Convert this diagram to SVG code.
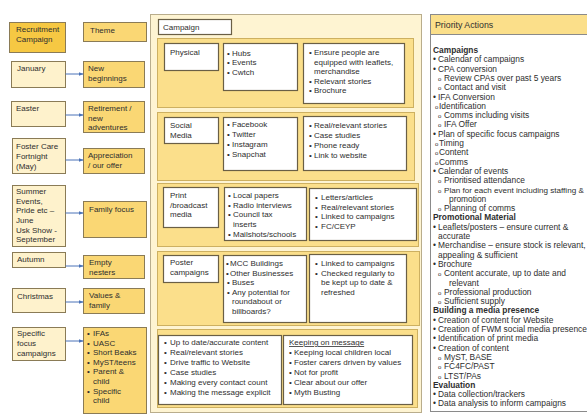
<svg xmlns="http://www.w3.org/2000/svg" width="587" height="415" viewBox="0 0 587 415">
<defs>
<marker id="ah" markerWidth="5" markerHeight="4" refX="4.5" refY="2" orient="auto" markerUnits="userSpaceOnUse">
<path d="M0,0 L5,2 L0,4 Z" fill="#4a73b8"/>
</marker>
<style>
text{font-family:"Liberation Sans",Arial,sans-serif;font-size:8px;fill:#2e2e2e}
.p{font-size:8.4px}
.h{font-size:8.8px}
.b{font-weight:bold}
.o{font-size:6px}
.dark{fill:#f6c843;stroke:#8a7b56;stroke-width:1}
.gold{fill:#fad774;stroke:#8a7b56;stroke-width:1}
.light{fill:#fef2cc;stroke:#8a7b56;stroke-width:1}
.panel{fill:#fef4d2;stroke:#b9ad8c;stroke-width:1}
.sect{fill:#fbdf8b;stroke:#cdb061;stroke-width:1}
.white{fill:#fff;stroke:#6a5f45;stroke-width:1.2}
.conn{stroke:#4a73b8;stroke-width:1;fill:none;marker-end:url(#ah)}
</style>
</defs>
<rect width="587" height="415" fill="#fff"/>

<!-- left column -->
<g id="recruitment"><rect class="dark" x="9.5" y="22.5" width="56" height="30"/><text x="16" y="32">Recruitment</text><text x="16" y="42">Campaign</text></g>
<g id="theme"><rect class="gold" x="83.5" y="22.5" width="63" height="19"/><text x="90" y="33">Theme</text></g>

<g id="january"><rect class="light" x="11.5" y="61.5" width="54" height="26"/><text x="17" y="71">January</text></g>
<g id="new-beginnings"><rect class="gold" x="83.5" y="61.5" width="61" height="26"/><text x="88" y="71">New</text><text x="88" y="81">beginnings</text></g>

<g id="easter"><rect class="light" x="11.5" y="101.5" width="54" height="25"/><text x="16" y="111">Easter</text></g>
<g id="retirement"><rect class="gold" x="83.5" y="101.5" width="61" height="31"/><text x="88" y="111">Retirement /</text><text x="88" y="120.5">new</text><text x="88" y="130">adventures</text></g>

<g id="foster-care"><rect class="light" x="12.5" y="138.5" width="53" height="35"/><text x="16" y="149">Foster Care</text><text x="16" y="159">Fortnight</text><text x="16" y="169">(May)</text></g>
<g id="appreciation"><rect class="gold" x="83.5" y="148.5" width="61" height="25"/><text x="88" y="158">Appreciation</text><text x="88" y="167.5">/ our offer</text></g>

<g id="summer"><rect class="light" x="12.5" y="185.5" width="53" height="61"/><text x="16" y="194">Summer</text><text x="16" y="203.7">Events,</text><text x="16" y="213.4">Pride etc –</text><text x="16" y="223">June</text><text x="16" y="232.7">Usk Show -</text><text x="16" y="242.4">September</text></g>
<g id="family-focus"><rect class="gold" x="83.5" y="201.5" width="63" height="36"/><text x="89" y="212">Family focus</text></g>

<g id="autumn"><rect class="light" x="12.5" y="252.5" width="53" height="15"/><text x="17" y="262">Autumn</text></g>
<g id="empty-nesters"><rect class="gold" x="83.5" y="255.5" width="61" height="23"/><text x="89" y="265">Empty</text><text x="89" y="275">nesters</text></g>

<g id="christmas"><rect class="light" x="12.5" y="288.5" width="53" height="24"/><text x="17" y="299">Christmas</text></g>
<g id="values"><rect class="gold" x="83.5" y="288.5" width="61" height="25"/><text x="89" y="298">Values &amp;</text><text x="89" y="307.5">family</text></g>

<g id="specific"><rect class="light" x="12.5" y="327.5" width="53" height="33"/><text x="17" y="336">Specific</text><text x="17" y="346">focus</text><text x="17" y="356">campaigns</text></g>
<g id="specific-list"><rect class="gold" x="83.5" y="327.5" width="63" height="86"/>
<text x="87" y="336">•</text><text x="93" y="336">IFAs</text>
<text x="87" y="345.6">•</text><text x="93" y="345.6">UASC</text>
<text x="87" y="355.2">•</text><text x="93" y="355.2">Short Beaks</text>
<text x="87" y="364.8">•</text><text x="93" y="364.8">MyST/teens</text>
<text x="87" y="374.4">•</text><text x="93" y="374.4">Parent &amp;</text>
<text x="93" y="384">child</text>
<text x="87" y="393.6">•</text><text x="93" y="393.6">Specific</text>
<text x="93" y="403.2">child</text>
</g>

<!-- connectors -->
<g id="connectors">
<line class="conn" x1="65.5" y1="74" x2="83" y2="74"/>
<line class="conn" x1="65.5" y1="115" x2="83" y2="115"/>
<line class="conn" x1="65.5" y1="160" x2="83" y2="160"/>
<line class="conn" x1="65.5" y1="213" x2="83" y2="213"/>
<line class="conn" x1="65.5" y1="266" x2="83" y2="266"/>
<line class="conn" x1="65.5" y1="302" x2="83" y2="302"/>
<line class="conn" x1="65.5" y1="341" x2="83" y2="341"/>
</g>

<!-- middle panel -->
<g id="campaign-panel"><rect class="panel" x="150.5" y="14.5" width="271" height="398"/></g>
<g id="campaign-header"><rect class="white" x="158.5" y="19.5" width="73" height="15"/><text x="163" y="30">Campaign</text></g>

<g id="physical-section"><rect class="sect" x="157.5" y="38.5" width="256" height="69"/></g>
<g id="physical"><rect class="white" x="164.5" y="43.5" width="54" height="27"/><text x="170" y="55">Physical</text></g>
<g id="physical-list"><rect class="white" x="223.5" y="43.5" width="74" height="47"/>
<text x="227" y="56">•</text><text x="232" y="56">Hubs</text>
<text x="227" y="65.3">•</text><text x="232" y="65.3">Events</text>
<text x="227" y="74.6">•</text><text x="232" y="74.6">Cwtch</text></g>
<g id="physical-notes"><rect class="white" x="303.5" y="43.5" width="101" height="60"/>
<text x="309" y="55">•</text><text x="314" y="55">Ensure people are</text>
<text x="314" y="64.5">equipped with leaflets,</text>
<text x="314" y="74">merchandise</text>
<text x="309" y="83.5">•</text><text x="314" y="83.5">Relevant stories</text>
<text x="309" y="93">•</text><text x="314" y="93">Brochure</text></g>

<g id="social-section"><rect class="sect" x="157.5" y="112.5" width="257" height="68"/></g>
<g id="social"><rect class="white" x="164.5" y="117.5" width="54" height="26"/><text x="170" y="128">Social</text><text x="170" y="138">Media</text></g>
<g id="social-list"><rect class="white" x="223.5" y="117.5" width="74" height="53"/>
<text x="227" y="127">•</text><text x="232" y="127">Facebook</text>
<text x="227" y="137">•</text><text x="232" y="137">Twitter</text>
<text x="227" y="147">•</text><text x="232" y="147">Instagram</text>
<text x="227" y="157">•</text><text x="232" y="157">Snapchat</text></g>
<g id="social-notes"><rect class="white" x="303.5" y="116.5" width="103" height="54"/>
<text x="309" y="128">•</text><text x="314" y="128">Real/relevant stories</text>
<text x="309" y="138">•</text><text x="314" y="138">Case studies</text>
<text x="309" y="148">•</text><text x="314" y="148">Phone ready</text>
<text x="309" y="158">•</text><text x="314" y="158">Link to website</text></g>

<g id="print-section"><rect class="sect" x="157.5" y="183.5" width="261" height="63"/></g>
<g id="print"><rect class="white" x="163.5" y="187.5" width="55" height="40"/><text x="170" y="198">Print</text><text x="170" y="207.5">/broadcast</text><text x="170" y="217">media</text></g>
<g id="print-list"><rect class="white" x="224.5" y="187.5" width="82" height="53"/>
<text x="228" y="198">•</text><text x="233" y="198">Local papers</text>
<text x="228" y="207.7">•</text><text x="233" y="207.7">Radio interviews</text>
<text x="228" y="217.4">•</text><text x="233" y="217.4">Council tax</text>
<text x="233" y="227">inserts</text>
<text x="228" y="236.7">•</text><text x="233" y="236.7">Mailshots/schools</text></g>
<g id="print-notes"><rect class="white" x="309.5" y="188.5" width="107" height="52"/>
<text x="315" y="200">•</text><text x="321" y="200">Letters/articles</text>
<text x="315" y="209.5">•</text><text x="321" y="209.5">Real/relevant stories</text>
<text x="315" y="219">•</text><text x="321" y="219">Linked to campaigns</text>
<text x="315" y="228.5">•</text><text x="321" y="228.5">FC/CEYP</text></g>

<g id="poster-section"><rect class="sect" x="157.5" y="251.5" width="262" height="74"/></g>
<g id="poster"><rect class="white" x="163.5" y="255.5" width="55" height="27"/><text x="170" y="265">Poster</text><text x="170" y="275">campaigns</text></g>
<g id="poster-list"><rect class="white" x="223.5" y="255.5" width="83" height="67"/>
<text x="226" y="266">•</text><text x="230" y="266">MCC Buildings</text>
<text x="226" y="275.5">•</text><text x="230" y="275.5">Other Businesses</text>
<text x="227" y="285">•</text><text x="232" y="285">Buses</text>
<text x="227" y="294.5">•</text><text x="232" y="294.5">Any potential for</text>
<text x="232" y="304">roundabout or</text>
<text x="232" y="313.5">billboards?</text></g>
<g id="poster-notes"><rect class="white" x="309.5" y="254.5" width="97" height="68"/>
<text x="315" y="266">•</text><text x="321" y="266">Linked to campaigns</text>
<text x="315" y="275.5">•</text><text x="321" y="275.5">Checked regularly to</text>
<text x="321" y="285">be kept up to date &amp;</text>
<text x="321" y="294.5">refreshed</text></g>

<g id="bottom-section"><rect class="sect" x="157.5" y="329.5" width="260" height="78"/></g>
<g id="content-list"><rect class="white" x="158.5" y="335.5" width="123" height="69"/>
<text x="164" y="345">•</text><text x="170" y="345">Up to date/accurate content</text>
<text x="164" y="354.9">•</text><text x="170" y="354.9">Real/relevant stories</text>
<text x="164" y="364.8">•</text><text x="170" y="364.8">Drive traffic to Website</text>
<text x="164" y="374.7">•</text><text x="170" y="374.7">Case studies</text>
<text x="164" y="384.6">•</text><text x="170" y="384.6">Making every contact count</text>
<text x="164" y="394.5">•</text><text x="170" y="394.5">Making the message explicit</text></g>
<g id="keeping-message"><rect class="white" x="283.5" y="335.5" width="129" height="69"/>
<text x="289" y="345" text-decoration="underline">Keeping on message</text>
<text x="289" y="354.9">•</text><text x="294" y="354.9">Keeping local children local</text>
<text x="289" y="364.8">•</text><text x="294" y="364.8">Foster carers driven by values</text>
<text x="289" y="374.7">•</text><text x="294" y="374.7">Not for profit</text>
<text x="289" y="384.6">•</text><text x="294" y="384.6">Clear about our offer</text>
<text x="289" y="394.5">•</text><text x="294" y="394.5">Myth Busting</text></g>

<!-- priority actions -->
<g id="priority-actions">
<rect x="430.5" y="14.5" width="170" height="397" fill="#fff" stroke="#8a8a8a"/>
<rect x="430.5" y="14.5" width="170" height="20" fill="#fbdf8a" stroke="#8a8a8a"/>
<text class="h" x="435" y="28">Priority Actions</text>
<text class="p b" x="433" y="53">Campaigns</text>
<text class="p" x="433" y="62.3">•</text><text class="p" x="438" y="62.3">Calendar of campaigns</text>
<text class="p" x="433" y="71.6">•</text><text class="p" x="438" y="71.6">CPA conversion</text>
<text class="o" x="438" y="80.9">o</text><text class="p" x="444" y="80.9">Review CPAs over past 5 years</text>
<text class="o" x="438" y="90.2">o</text><text class="p" x="444" y="90.2">Contact and visit</text>
<text class="p" x="433" y="99.5">•</text><text class="p" x="438" y="99.5">IFA Conversion</text>
<text class="o" x="435" y="108.8">o</text><text class="p" x="439" y="108.8">Identification</text>
<text class="o" x="438" y="118.1">o</text><text class="p" x="444" y="118.1">Comms including visits</text>
<text class="o" x="438" y="127.4">o</text><text class="p" x="444" y="127.4">IFA Offer</text>
<text class="p" x="433" y="136.7">•</text><text class="p" x="438" y="136.7">Plan of specific focus campaigns</text>
<text class="o" x="435" y="146">o</text><text class="p" x="439" y="146">Timing</text>
<text class="o" x="435" y="155.3">o</text><text class="p" x="439" y="155.3">Content</text>
<text class="o" x="435" y="164.6">o</text><text class="p" x="439" y="164.6">Comms</text>
<text class="p" x="433" y="173.9">•</text><text class="p" x="438" y="173.9">Calendar of events</text>
<text class="o" x="438" y="183.2">o</text><text class="p" x="444" y="183.2">Prioritised attendance</text>
<text class="o" x="438" y="192.5">o</text><text class="p" x="444" y="192.5" style="font-size:8.1px">Plan for each event including staffing &amp;</text>
<text class="p" x="449" y="201.8">promotion</text>
<text class="o" x="438" y="211.1">o</text><text class="p" x="444" y="211.1">Planning of comms</text>
<text class="p b" x="433" y="220.4">Promotional Material</text>
<text class="p" x="433" y="229.7">•</text><text class="p" x="438" y="229.7">Leaflets/posters – ensure current &amp;</text>
<text class="p" x="438" y="239">accurate</text>
<text class="p" x="433" y="248.3">•</text><text class="p" x="438" y="248.3">Merchandise – ensure stock is relevant,</text>
<text class="p" x="438" y="257.6">appealing &amp; sufficient</text>
<text class="p" x="433" y="266.9">•</text><text class="p" x="438" y="266.9">Brochure</text>
<text class="o" x="438" y="276.2">o</text><text class="p" x="444" y="276.2">Content accurate, up to date and</text>
<text class="p" x="449" y="285.5">relevant</text>
<text class="o" x="438" y="294.8">o</text><text class="p" x="444" y="294.8">Professional production</text>
<text class="o" x="438" y="304.1">o</text><text class="p" x="444" y="304.1">Sufficient supply</text>
<text class="p b" x="433" y="313.4">Building a media presence</text>
<text class="p" x="433" y="322.7">•</text><text class="p" x="438" y="322.7">Creation of content for Website</text>
<text class="p" x="433" y="332">•</text><text class="p" x="438" y="332">Creation of FWM social media presence</text>
<text class="p" x="433" y="341.3">•</text><text class="p" x="438" y="341.3">Identification of print media</text>
<text class="p" x="433" y="350.6">•</text><text class="p" x="438" y="350.6">Creation of content</text>
<text class="o" x="438" y="359.9">o</text><text class="p" x="444" y="359.9">MyST, BASE</text>
<text class="o" x="438" y="369.2">o</text><text class="p" x="444" y="369.2">FC4FC/PAST</text>
<text class="o" x="438" y="378.5">o</text><text class="p" x="444" y="378.5">LTST/PAs</text>
<text class="p b" x="433" y="387.8">Evaluation</text>
<text class="p" x="433" y="397.1">•</text><text class="p" x="438" y="397.1">Data collection/trackers</text>
<text class="p" x="433" y="406.4">•</text><text class="p" x="438" y="406.4">Data analysis to inform campaigns</text>
</g>
</svg>
